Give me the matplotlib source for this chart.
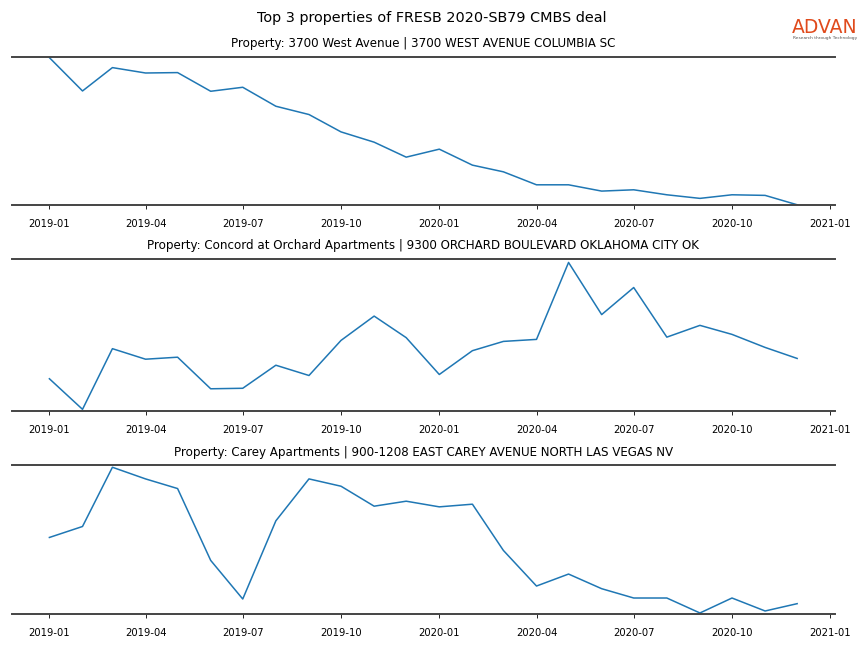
import numpy as np
import pandas as pd
import matplotlib
matplotlib.use('Agg')
import matplotlib.pyplot as plt
import matplotlib.dates as mdates

months = pd.date_range('2019-01-01', '2020-12-01', freq='MS')

titles = [
    'Property: 3700 West Avenue | 3700 WEST AVENUE COLUMBIA SC',
    'Property: Concord at Orchard Apartments | 9300 ORCHARD BOULEVARD OKLAHOMA CITY OK',
    'Property: Carey Apartments | 900-1208 EAST CAREY AVENUE NORTH LAS VEGAS NV',
]

# monthly visits
west_avenue = [1774, 1440, 1674, 1620, 1624, 1437, 1477, 1287, 1204, 1030, 927, 777,
               857, 697, 630, 500, 500, 437, 450, 400, 364, 400, 394, 300]
concord = [228, 106, 348, 306, 314, 188, 190, 282, 241, 381, 478, 392,
           245, 340, 377, 385, 692, 484, 592, 394, 441, 405, 353, 309]
carey = [280, 313, 491, 456, 427, 211, 95, 330, 456, 434, 374, 389,
         372, 380, 241, 134, 170, 126, 98, 98, 53, 98, 59, 81]

series = [west_avenue, concord, carey]
ylims = [(300, 1780), (100, 705), (50, 497)]

fig = plt.figure(figsize=(8.64, 6.48), dpi=100)
fig.suptitle('Top 3 properties of FRESB 2020-SB79 CMBS deal', fontsize=10.4, y=0.983)

# axes rects [left, bottom, width, height]
rects = [
    [0.0139, 0.684, 0.952, 0.228],
    [0.0139, 0.366, 0.952, 0.234],
    [0.0139, 0.0525, 0.952, 0.2295],
]

for rect, title, vals, lim in zip(rects, titles, series, ylims):
    ax = fig.add_axes(rect)
    ax.plot(months, vals, color='#1f77b4', linewidth=1.1)
    ax.set_title(title, fontsize=8.6, pad=7)
    ax.set_ylim(*lim)
    ax.set_xlim(pd.Timestamp('2018-11-27'), pd.Timestamp('2021-01-05'))
    ax.xaxis.set_major_locator(mdates.MonthLocator(bymonth=[1, 4, 7, 10]))
    ax.xaxis.set_major_formatter(mdates.DateFormatter('%Y-%m'))
    ax.tick_params(axis='x', labelsize=7.2, length=3, width=0.6, pad=7)
    ax.set_yticks([])
    for side in ['left', 'right']:
        ax.spines[side].set_visible(False)
    for side in ['top', 'bottom']:
        ax.spines[side].set_color('#444444')
        ax.spines[side].set_linewidth(1.4)

# logo
fig.text(0.993, 0.957, 'ADVAN', color='#e04a1c', fontsize=13.5, ha='right',
         va='center', fontweight='medium')
fig.text(0.992, 0.941, 'Research through Technology', color='#555555',
         fontsize=3.2, ha='right', va='center')

fig.savefig('out.png', dpi=100)
